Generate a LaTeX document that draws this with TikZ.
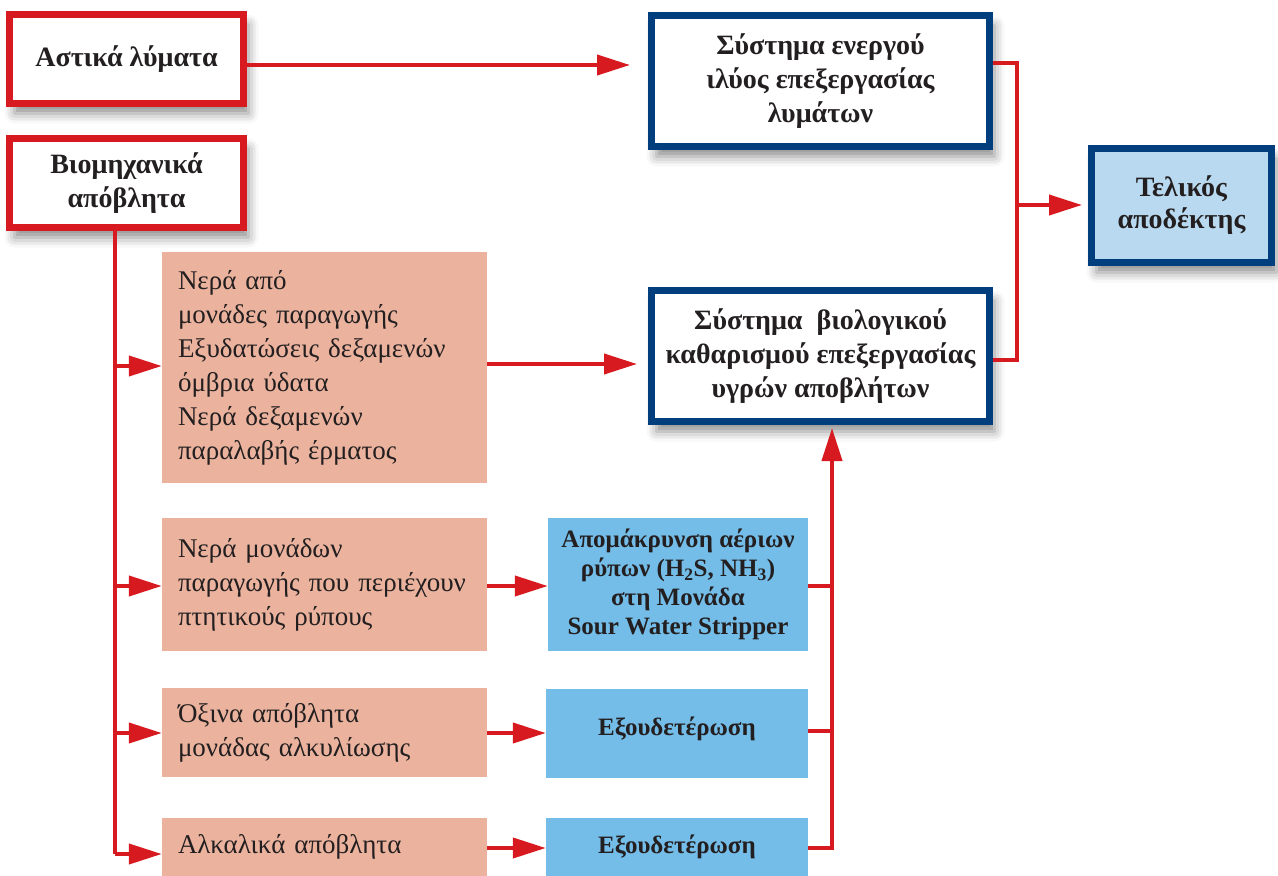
\documentclass[tikz,border=0pt]{standalone}
\usepackage{fontspec}
\setmainfont{Liberation Serif}
\usetikzlibrary{arrows.meta,shadows.blur}

\definecolor{cred}{HTML}{D71920}
\definecolor{cblue}{HTML}{003E7E}
\definecolor{csalmon}{HTML}{EBB39E}
\definecolor{csky}{HTML}{74BDE8}
\definecolor{cpale}{HTML}{B8D9F0}
\definecolor{ctext}{HTML}{231F20}

\tikzset{
  framed/.style={line width=7pt, fill=white, align=center, text=ctext,
    font=\bfseries\fontsize{28}{34}\selectfont, inner sep=0pt,
    blur shadow={shadow xshift=5pt, shadow yshift=-10pt,
      shadow blur radius=10pt, shadow opacity=45}},
  redbox/.style={framed, draw=cred},
  bluebox/.style={framed, draw=cblue},
  feed/.style={fill=csalmon, text=ctext, align=left,
    font=\fontsize{27}{34}\selectfont, text width=293pt,
    inner xsep=16pt, inner ysep=0pt},
  proc/.style={fill=csky, text=ctext, align=center,
    font=\bfseries\fontsize{25}{29}\selectfont, inner sep=0pt},
  link/.style={draw=cred, line width=4pt},
  flow/.style={link, -{Triangle[length=33pt,width=20pt]}}
}

\begin{document}
\begin{tikzpicture}[x=1pt, y=-1pt]
  \useasboundingbox (0,0) rectangle (1278,876);

  % sources
  \node[redbox, minimum width=234pt, minimum height=89pt] (ast) at (126.5,59) {Αστικά λύματα};
  \node[redbox, minimum width=234pt, minimum height=89pt] (bio) at (126.5,183) {Βιομηχανικά\\απόβλητα};

  % treatment systems
  \node[bluebox, minimum width=338pt, minimum height=131pt] (sys1) at (820.5,81)
    {Σύστημα ενεργού\\ιλύος επεξεργασίας\\λυμάτων};
  \node[bluebox, minimum width=338pt, minimum height=131pt] (sys2) at (820.5,356)
    {Σύστημα \ βιολογικού\\καθαρισμού επεξεργασίας\\υγρών αποβλήτων};
  \node[bluebox, fill=cpale, minimum width=180pt, minimum height=114pt,
        font=\bfseries\fontsize{28}{32}\selectfont] (tel) at (1181.5,205.5)
    {Τελικός\\αποδέκτης};

  % industrial streams
  \node[feed, minimum height=231pt] (s1) at (324.5,367.5)
    {Νερά από\\μονάδες παραγωγής\\Εξυδατώσεις δεξαμενών\\όμβρια ύδατα\\Νερά δεξαμενών\\παραλαβής έρματος};
  \node[feed, minimum height=133pt] (s2) at (324.5,584.5)
    {Νερά μονάδων\\παραγωγής που περιέχουν\\πτητικούς ρύπους};
  \node[feed, minimum height=89pt] (s3) at (324.5,732.5)
    {Όξινα απόβλητα\\μονάδας αλκυλίωσης};
  \node[feed, minimum height=58pt] (s4) at (324.5,847)
    {Αλκαλικά απόβλητα};

  % pre-treatment units
  \node[proc, minimum width=260pt, minimum height=133pt] (b1) at (678,584.5)
    {Απομάκρυνση αέριων\\ρύπων (H\textsubscript{2}S, NH\textsubscript{3})\\στη Μονάδα\\Sour Water Stripper};
  \node[proc, minimum width=262pt, minimum height=89pt] (b2) at (677,733.5)
    {\raisebox{14pt}{Εξουδετέρωση}};
  \node[proc, minimum width=262pt, minimum height=58pt] (b3) at (677,847)
    {\raisebox{6pt}{Εξουδετέρωση}};

  % junction points
  \coordinate (aTip) at (630,65);
  \coordinate (r1) at (1017,63);
  \coordinate (rm) at (1017,205);
  \coordinate (r2) at (1017,360);
  \coordinate (t0) at (115,231);
  \coordinate (t1) at (115,366);
  \coordinate (t2) at (115,586);
  \coordinate (t3) at (115,733);
  \coordinate (t4) at (115,854);
  \coordinate (sTip) at (637,364);
  \coordinate (u1) at (832,586);
  \coordinate (u2) at (832,731);
  \coordinate (u3) at (832,848);

  % municipal line
  \draw[flow] (ast.east |- aTip) -- (aTip);

  % collector to final receiver
  \draw[link] (sys1.east |- r1) -- (r1) -- (r2) -- (sys2.east |- r2);
  \draw[flow, shorten >=6pt] (rm) -- (tel.west |- rm);

  % industrial trunk and branches
  \draw[link] (t0) -- (t4);
  \draw[flow] (t1) -- (s1.west |- t1);
  \draw[flow] (t2) -- (s2.west |- t2);
  \draw[flow] (t3) -- (s3.west |- t3);
  \draw[flow] (t4) -- (s4.west |- t4);

  % streams to treatment
  \draw[flow] (s1.east |- sTip) -- (sTip);
  \draw[flow] (s2.east |- u1) -- (b1.west |- u1);
  \draw[flow] (s3.east |- t3) -- (b2.west |- t3);
  \draw[flow] (s4.east |- u3) -- (b3.west |- u3);

  % pre-treated streams up to biological system
  \draw[link] (b1.east |- u1) -- (u1);
  \draw[link] (b2.east |- u2) -- (u2);
  \draw[flow, shorten >=3pt] (b3.east |- u3) -- (u3) -- (sys2.south -| u3);
\end{tikzpicture}
\end{document}
